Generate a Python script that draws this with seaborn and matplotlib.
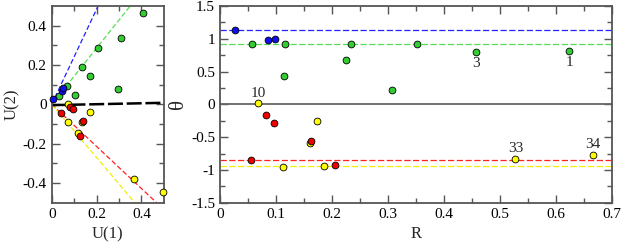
#two panel plot: U(2) vs U(1) and theta vs R, points coloured by group
import numpy as np
import pandas as pd
import matplotlib
matplotlib.use('Agg')
import matplotlib.pyplot as plt
import seaborn as sns

#left panel, U(1) and U(2) per group
blue_u1 = [0.007, 0.045, 0.052]
blue_u2 = [0.026, 0.069, 0.082]
green_u1 = [0.408, 0.307, 0.205, 0.135, 0.171, 0.070, 0.104, 0.297, 0.034]
green_u2 = [0.466, 0.336, 0.285, 0.190, 0.144, 0.093, 0.049, 0.078, 0.044]
yellow_u1 = [0.071, 0.171, 0.071, 0.116, 0.368, 0.494, 0.136]
yellow_u2 = [0.002, -0.040, -0.091, -0.147, -0.380, -0.447, -0.089]
red_u1 = [0.040, 0.081, 0.096, 0.138, 0.126]
red_u2 = [-0.042, -0.012, -0.025, -0.085, -0.161]

#slopes of the dashed lines through the origin (left panel)
blue_slope = 2.42
green_slope = 1.43
red_slope = -1.07
yellow_slope = -1.35
black_line_u2 = [-0.004, 0.008]   #at U(1) = 0 and 0.5

#right panel, R and theta per group
blue_R = [0.027, 0.085, 0.099]
blue_th = [1.13, 0.98, 1.00]
green_R = [0.058, 0.117, 0.114, 0.225, 0.235, 0.308, 0.352, 0.457, 0.624]
green_th = [0.915, 0.915, 0.428, 0.672, 0.915, 0.224, 0.915, 0.80, 0.82]
yellow_R = [0.068, 0.112, 0.174, 0.186, 0.161, 0.528, 0.666]
yellow_th = [0.016, -0.95, -0.25, -0.935, -0.594, -0.838, -0.768]
red_R = [0.055, 0.082, 0.097, 0.163, 0.206]
red_th = [-0.853, -0.157, -0.284, -0.559, -0.925]

#mean theta levels
blue_level = 1.13
green_level = 0.92
red_level = -0.853
yellow_level = -0.94

#labelled points: (group, index, text)
labels = [('yellow', 0, '10'), ('green', 7, '3'), ('green', 8, '1'),
          ('yellow', 5, '33'), ('yellow', 6, '34')]
label_offsets = {'10': (0, 7), '3': (0, -8.5), '1': (0, -8.5), '33': (0, 7.5), '34': (0, 7)}

fill = {'green': '#33cc33', 'blue': '#1010ee', 'yellow': '#ffff00', 'red': '#ee0000'}
line_col = {'green': '#55dd55', 'blue': '#2222ff', 'yellow': '#f0f000', 'red': '#ff2222'}

order = ['green', 'blue', 'yellow', 'red']
left = pd.DataFrame({
    'u1': green_u1 + blue_u1 + yellow_u1 + red_u1,
    'u2': green_u2 + blue_u2 + yellow_u2 + red_u2,
    'grp': ['green'] * len(green_u1) + ['blue'] * len(blue_u1) + ['yellow'] * len(yellow_u1) + ['red'] * len(red_u1)})
right = pd.DataFrame({
    'R': green_R + blue_R + yellow_R + red_R,
    'th': green_th + blue_th + yellow_th + red_th,
    'grp': ['green'] * len(green_R) + ['blue'] * len(blue_R) + ['yellow'] * len(yellow_R) + ['red'] * len(red_R)})

sns.set_style('ticks')
plt.rcParams['font.family'] = ['Liberation Serif', 'DejaVu Serif']
frame = '#555555'

fig = plt.figure(figsize=(6.23, 2.43), dpi=100)
axL = fig.add_axes([0.083, 0.166, 0.180, 0.809])
axR = fig.add_axes([0.353, 0.166, 0.629, 0.809])

#left panel lines
xs = np.linspace(0, 0.5, 200)
for grp, sl in [('blue', blue_slope), ('green', green_slope), ('red', red_slope), ('yellow', yellow_slope)]:
    axL.plot(xs, sl * xs, color=line_col[grp], lw=0.9, dashes=(4, 2), zorder=1)
axL.plot([0, 0.5], black_line_u2, color='black', lw=1.8, dashes=(6, 1.5), zorder=1)

for grp in order:
    sub = left[left['grp'] == grp]
    sns.scatterplot(data=sub, x='u1', y='u2', ax=axL, color=fill[grp], s=24,
                    edgecolor='black', linewidth=0.6, zorder=3, clip_on=False, legend=False)

axL.set_xlim(0, 0.5)
axL.set_ylim(-0.5, 0.5)
axL.set_xticks([0, 0.2, 0.4])
axL.set_xticklabels(['0', '0.2', '0.4'])
axL.set_xticks([0.1, 0.3], minor=True)
axL.set_yticks([-0.4, -0.2, 0, 0.2, 0.4])
axL.set_yticklabels(['-0.4', '-0.2', '0', '0.2', '0.4'])
axL.set_yticks([-0.3, -0.1, 0.1, 0.3], minor=True)
axL.set_xlabel('U(1)', fontsize=12, labelpad=4)
axL.set_ylabel('U(2)', fontsize=12, labelpad=2)

#right panel
axR.axhline(0, color='#666666', lw=1.3, zorder=1)
for grp, lev in [('blue', blue_level), ('green', green_level), ('red', red_level), ('yellow', yellow_level)]:
    axR.axhline(lev, color=line_col[grp], lw=0.9, dashes=(5, 2), zorder=1)

for grp in order:
    sub = right[right['grp'] == grp]
    sns.scatterplot(data=sub, x='R', y='th', ax=axR, color=fill[grp], s=24,
                    edgecolor='black', linewidth=0.6, zorder=3, legend=False)

for grp, i, txt in labels:
    sub = right[right['grp'] == grp].reset_index(drop=True)
    axR.annotate(txt, (sub.loc[i, 'R'], sub.loc[i, 'th']), xytext=label_offsets[txt],
                 textcoords='offset points', ha='center', va='center', fontsize=11)

axR.set_xlim(0, 0.7)
axR.set_ylim(-1.5, 1.5)
axR.set_xticks(np.arange(0, 0.71, 0.1))
axR.set_xticklabels(['0', '0.1', '0.2', '0.3', '0.4', '0.5', '0.6', '0.7'])
axR.set_xticks(np.arange(0.05, 0.7, 0.1), minor=True)
axR.set_yticks([-1.5, -1, -0.5, 0, 0.5, 1, 1.5])
axR.set_yticklabels(['-1.5', '-1', '-0.5', '0', '0.5', '1', '1.5'])
axR.set_yticks(np.arange(-1.25, 1.3, 0.5), minor=True)
axR.set_xlabel('R', fontsize=12, labelpad=4)
axR.set_ylabel('θ', fontsize=15, labelpad=2)

for ax in [axL, axR]:
    for sp in ax.spines.values():
        sp.set_color(frame)
        sp.set_linewidth(1.3)
    ax.tick_params(which='both', direction='in', top=True, right=True, colors=frame,
                   labelcolor='black', labelsize=11, width=1.0)
    ax.tick_params(which='major', length=6)
    ax.tick_params(which='minor', length=3.5)

fig.savefig('out.png', dpi=100)
